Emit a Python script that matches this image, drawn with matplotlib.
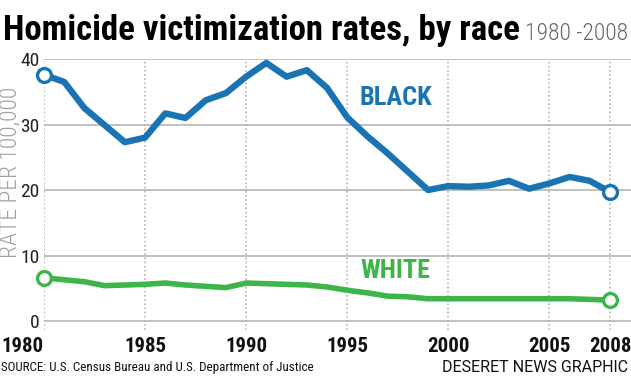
import matplotlib
matplotlib.use('Agg')
import matplotlib.pyplot as plt
from matplotlib import font_manager

years = list(range(1980, 2009))
black = [37.6, 36.5, 32.5, 29.9, 27.3, 28.0, 31.7, 31.0, 33.7, 34.8,
         37.3, 39.4, 37.3, 38.3, 35.6, 31.1, 28.2, 25.6, 22.8, 20.0,
         20.6, 20.5, 20.7, 21.4, 20.2, 21.0, 22.0, 21.4, 19.7]
white = [6.6, 6.3, 6.0, 5.4, 5.5, 5.6, 5.8, 5.5, 5.3, 5.1,
         5.8, 5.7, 5.6, 5.5, 5.2, 4.7, 4.3, 3.8, 3.7, 3.4,
         3.4, 3.4, 3.4, 3.4, 3.4, 3.4, 3.4, 3.3, 3.2]
x_ticks = [1980, 1985, 1990, 1995, 2000, 2005, 2008]
y_ticks = [0, 10, 20, 30, 40]

BLUE = '#1a74b3'
GREEN = '#3db54a'
GRID = '#b5b5b5'


def pick_font(names):
    for n in names:
        try:
            font_manager.findfont(font_manager.FontProperties(family=n),
                                  fallback_to_default=False)
            return n
        except ValueError:
            pass
    return 'DejaVu Sans'


NARROW = pick_font(['Roboto Condensed', 'Liberation Sans Narrow',
                    'DejaVu Sans Condensed', 'Liberation Sans'])
REGULAR = pick_font(['Roboto', 'Liberation Sans'])


def main():
    W, H = 631, 378
    fig = plt.figure(figsize=(W / 100, H / 100), dpi=100)
    ax = fig.add_axes([44 / W, 1 - 330 / H, 587 / W, 271 / H])

    ax.plot(years, black, color=BLUE, lw=4.6, solid_joinstyle='round',
            marker='o', markevery=[0, -1], ms=10, mfc='white', mec=BLUE,
            mew=2.4, clip_on=False, zorder=3)
    ax.plot(years, white, color=GREEN, lw=4.0, solid_joinstyle='round',
            marker='o', markevery=[0, -1], ms=10, mfc='white', mec=GREEN,
            mew=2.4, clip_on=False, zorder=3)

    ax.set_xlim(1980, 2009.04)
    ax.set_ylim(-1.37, 40)
    for s in ax.spines.values():
        s.set_visible(False)

    for y in y_ticks:
        ax.axhline(y, color=GRID, lw=1.2, zorder=1)
    for x in x_ticks:
        ax.axvline(x, color=GRID, lw=1.2, ls=(0, (1, 1.5)), zorder=1)

    ax.set_xticks(x_ticks)
    ax.set_xticklabels([str(x) for x in x_ticks], family=NARROW,
                       fontweight='bold', fontsize=15, color='#111111')
    ax.get_xticklabels()[0].set_ha('right')
    ax.set_yticks(y_ticks)
    ax.set_yticklabels([str(y) for y in y_ticks], family=NARROW,
                       fontsize=14, color='#222222')
    ax.tick_params(length=0, pad=3)
    ax.tick_params(axis='x', pad=5)

    ax.text(1997.4, 34.0, 'BLACK', color=BLUE, family=NARROW,
            fontweight='bold', fontsize=19, ha='center', va='center')
    ax.text(1997.4, 7.6, 'WHITE', color=GREEN, family=NARROW,
            fontweight='bold', fontsize=19, ha='center', va='center')

    fig.text(10 / W, 1 - 172 / H, 'RATE PER 100,000', rotation=90,
             family=NARROW, fontsize=17, fontweight='light', color='#a0a0a0',
             ha='center', va='center')

    title = fig.text(3 / W, 1 - 40 / H, 'Homicide victimization rates, by race',
                     family=NARROW, fontweight='black', fontsize=32,
                     color='black', ha='left', va='baseline')
    sub = fig.text(628 / W, 1 - 40 / H, '1980 -2008', family=NARROW,
                   fontsize=17, fontweight='light', color='#666666',
                   ha='right', va='baseline')

    # shrink title so it fits before the subtitle
    fig.canvas.draw()
    r = fig.canvas.get_renderer()
    tw = title.get_window_extent(r).width
    sw = sub.get_window_extent(r).width
    avail = W - 3 - sw - 8
    if tw > avail:
        title.set_fontsize(32 * avail / tw)

    fig.text(1 / W, 1 - 368 / H,
             'SOURCE: U.S. Census Bureau and U.S. Department of Justice',
             family=NARROW, fontsize=9.4, color='#111111',
             ha='left', va='center')
    fig.text(628 / W, 1 - 368 / H, 'DESERET NEWS GRAPHIC', family=REGULAR,
             fontsize=11.5, color='#111111', ha='right', va='center')

    fig.savefig('out.png', dpi=100)


if __name__ == '__main__':
    main()
